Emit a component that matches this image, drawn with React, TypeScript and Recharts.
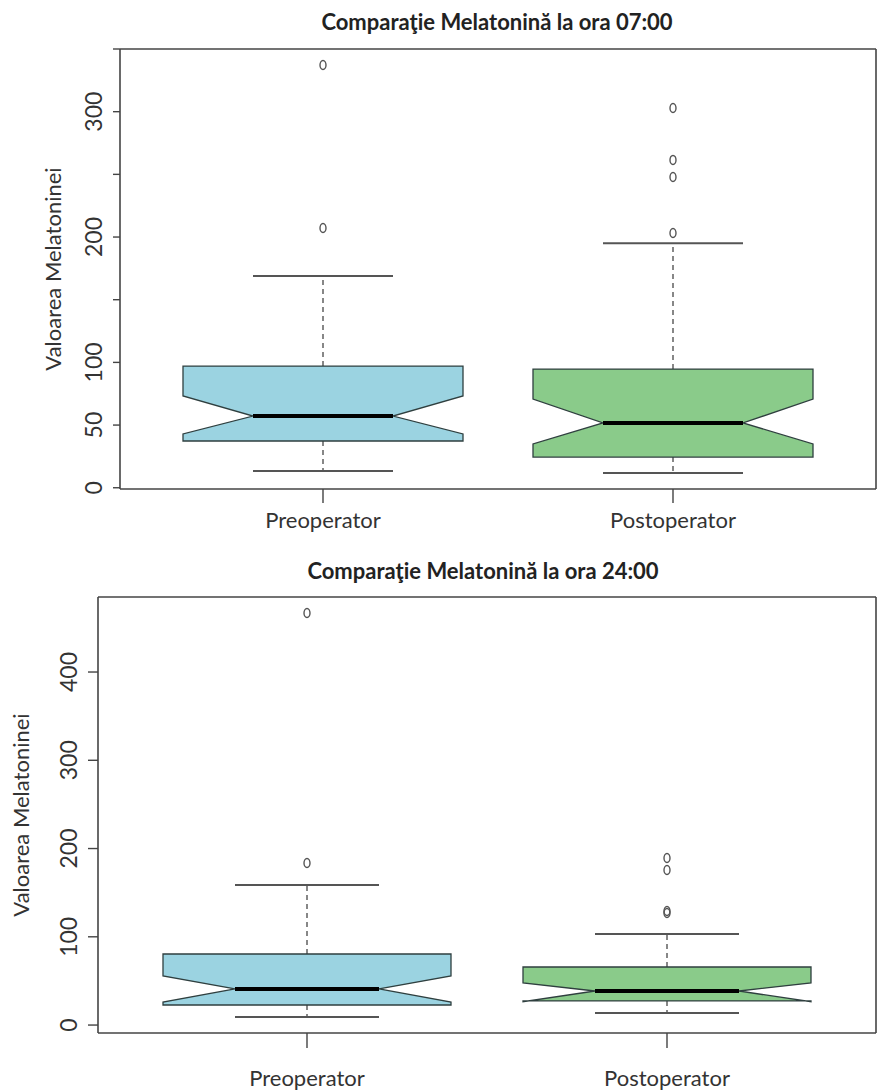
import { ComposedChart, Bar, Scatter, XAxis, YAxis, CartesianGrid } from 'recharts';

const groups = ['Preoperator', 'Postoperator'];
const boxColors = ['#9bd3e1', '#8acb8a'];

// Melatonina la ora 07:00
const amWhiskerLow = [13.4, 11.8];
const amQ1 = [37.3, 24.5];
const amNotchLow = [42.9, 34.9];
const amMedian = [57.2, 51.7];
const amNotchHigh = [73.2, 70.8];
const amQ3 = [97.1, 94.7];
const amWhiskerHigh = [168.9, 195];
const amOutliersPre = [337.2, 207.2];
const amOutliersPost = [302.9, 261.5, 247.9, 203.2];

// Melatonina la ora 24:00
const pmWhiskerLow = [9.1, 13.7];
const pmQ1 = [22.7, 27.3];
const pmNotchLow = [26.1, 26.4];
const pmMedian = [40.9, 38.6];
const pmNotchHigh = [55.6, 47.7];
const pmQ3 = [80.5, 65.8];
const pmWhiskerHigh = [158.7, 103.2];
const pmOutliersPre = [466.9, 183.6];
const pmOutliersPost = [189.3, 175.7, 129.2, 127];

const amTicks = [0, 50, 100, 150, 200, 250, 300, 350];
const amLabelled = [0, 50, 100, 200, 300];
const pmTicks = [0, 100, 200, 300, 400];

const FONT = 'Lato, "Open Sans", sans-serif';
const TEXT = '#333';
const LINE = '#444';

const buildRows = (lo: number[], q1: number[], nl: number[], med: number[], nh: number[], q3: number[], hi: number[]) =>
  groups.map((g, i) => ({
    group: g,
    range: [lo[i], hi[i]],
    q1: q1[i],
    notchLow: nl[i],
    median: med[i],
    notchHigh: nh[i],
    q3: q3[i],
    color: boxColors[i],
  }));

const outlierRows = (pre: number[], post: number[]) => [
  ...pre.map((v) => ({ group: groups[0], value: v })),
  ...post.map((v) => ({ group: groups[1], value: v })),
];

const amRows = buildRows(amWhiskerLow, amQ1, amNotchLow, amMedian, amNotchHigh, amQ3, amWhiskerHigh);
const pmRows = buildRows(pmWhiskerLow, pmQ1, pmNotchLow, pmMedian, pmNotchHigh, pmQ3, pmWhiskerHigh);
const amOut = outlierRows(amOutliersPre, amOutliersPost);
const pmOut = outlierRows(pmOutliersPre, pmOutliersPost);

// notched box drawn inside the bar that spans whisker to whisker
const BoxShape = (props: any) => {
  const { x, y, width, height, payload } = props;
  const [lo, hi] = payload.range;
  const py = (v: number) => y + (height * (hi - v)) / (hi - lo);
  const cx = x + width / 2;
  const xl = x;
  const xr = x + width;
  const ql = cx - width / 4;
  const qr = cx + width / 4;
  const pts = [
    [xl, py(payload.q1)],
    [xl, py(payload.notchLow)],
    [ql, py(payload.median)],
    [xl, py(payload.notchHigh)],
    [xl, py(payload.q3)],
    [xr, py(payload.q3)],
    [xr, py(payload.notchHigh)],
    [qr, py(payload.median)],
    [xr, py(payload.notchLow)],
    [xr, py(payload.q1)],
  ]
    .map((p) => p.join(','))
    .join(' ');
  return (
    <g>
      <line x1={cx} x2={cx} y1={py(payload.q3)} y2={py(hi)} stroke="#555" strokeWidth={1.4} strokeDasharray="5 4" />
      <line x1={cx} x2={cx} y1={py(payload.q1)} y2={py(lo)} stroke="#555" strokeWidth={1.4} strokeDasharray="5 4" />
      <line x1={ql} x2={qr} y1={py(hi)} y2={py(hi)} stroke="#555" strokeWidth={2} />
      <line x1={ql} x2={qr} y1={py(lo)} y2={py(lo)} stroke="#555" strokeWidth={2} />
      <polygon points={pts} fill={payload.color} stroke="#2f3f3f" strokeWidth={1.3} />
      <line x1={ql} x2={qr} y1={py(payload.median)} y2={py(payload.median)} stroke="#000" strokeWidth={4} />
    </g>
  );
};

const OutlierShape = (props: any) => (
  <ellipse cx={props.cx} cy={props.cy} rx={3} ry={4.5} fill="none" stroke="#555" strokeWidth={1.4} />
);

function BoxChart({
  top, height, plotTop, plotBottom, plotLeft, domain, ticks, labelled, xPad, box,
  rows, outliers, title, titleX, titleY, yTitleX, yTickX, xTickSize, yTickSize, xLabelDy,
}: any) {
  const YTick = (p: any) => {
    const v = p.payload.value;
    if (!labelled.includes(v)) return <g />;
    return (
      <text x={yTickX} y={p.y} transform={`rotate(-90 ${yTickX} ${p.y})`} textAnchor="middle"
        dominantBaseline="central" fill={TEXT} fontSize={23} fontFamily={FONT}>{v}</text>
    );
  };
  const XTick = (p: any) => (
    <text x={p.x} y={p.y} dy={xLabelDy} textAnchor="middle" fill={TEXT} fontSize={22} fontFamily={FONT}>
      {p.payload.value}
    </text>
  );
  const frame = { stroke: LINE, strokeWidth: 1.6 };
  const midY = (plotTop + plotBottom) / 2;
  return (
    <div style={{ position: 'absolute', left: 0, top, width: 878, height }}>
      <div style={{ position: 'absolute', left: titleX - 300, width: 600, top: titleY - 14, height: 28, lineHeight: '28px',
        textAlign: 'center', fontFamily: FONT, fontWeight: 700, fontSize: 22, color: '#222' }}>{title}</div>
      <ComposedChart width={878} height={height} data={rows}
        margin={{ top: plotTop, right: 2, left: 0, bottom: 0 }}>
        {/* top and right edges of the plot frame */}
        <CartesianGrid stroke={LINE} strokeWidth={1.6}
          horizontalCoordinatesGenerator={({ offset }: any) => [offset.top]}
          verticalCoordinatesGenerator={({ offset }: any) => [offset.left + offset.width]} />
        <XAxis dataKey="group" type="category" allowDuplicatedCategory={false} padding={{ left: xPad, right: xPad }}
          height={height - plotBottom} tickSize={xTickSize} axisLine={frame} tickLine={{ stroke: LINE, strokeWidth: 1.4 }}
          tick={<XTick />} />
        <YAxis type="number" domain={domain} ticks={ticks} allowDataOverflow width={plotLeft} tickSize={yTickSize}
          axisLine={frame} tickLine={{ stroke: LINE, strokeWidth: 1.4 }} tick={<YTick />} interval={0}
          label={{ content: () => (
            <text x={yTitleX} y={midY} transform={`rotate(-90 ${yTitleX} ${midY})`} textAnchor="middle"
              dominantBaseline="central" fill={TEXT} fontSize={22} fontFamily={FONT}>Valoarea Melatoninei</text>
          ) }} />
        <Bar dataKey="range" barSize={box} shape={<BoxShape />} isAnimationActive={false} />
        <Scatter data={outliers} dataKey="value" shape={<OutlierShape />} isAnimationActive={false} />
      </ComposedChart>
    </div>
  );
}

export default function App() {
  return (
    <div style={{ position: 'absolute', left: 0, top: 0, width: 878, height: 1090, background: '#fff' }}>
      <BoxChart top={0} height={540} plotTop={49} plotBottom={489} plotLeft={120} domain={[-1, 350]}
        ticks={amTicks} labelled={amLabelled} xPad={28} box={280} rows={amRows} outliers={amOut}
        title="Comparaţie Melatonină la ora 07:00" titleX={497} titleY={22} yTitleX={52} yTickX={93}
        xTickSize={14} yTickSize={7} xLabelDy={23} />
      <BoxChart top={540} height={550} plotTop={57} plotBottom={493} plotLeft={98} domain={[-9, 485]}
        ticks={pmTicks} labelled={pmTicks} xPad={29} box={288} rows={pmRows} outliers={pmOut}
        title="Comparaţie Melatonină la ora 24:00" titleX={483} titleY={31} yTitleX={20} yTickX={68}
        xTickSize={15} yTickSize={10} xLabelDy={36} />
    </div>
  );
}
